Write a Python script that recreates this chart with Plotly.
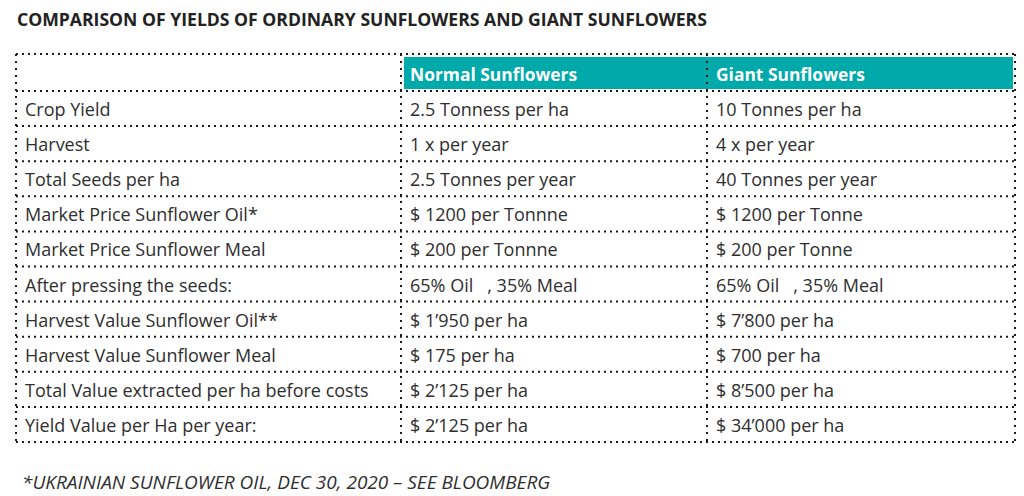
import plotly.graph_objects as go

title = "COMPARISON OF YIELDS OF ORDINARY SUNFLOWERS AND GIANT SUNFLOWERS"
footnote = "*UKRAINIAN SUNFLOWER OIL, DEC 30, 2020 – SEE BLOOMBERG"
headers = ["", "Normal Sunflowers", "Giant Sunflowers"]
row_labels = [
    "Crop Yield",
    "Harvest",
    "Total Seeds per ha",
    "Market Price Sunflower Oil*",
    "Market Price Sunflower Meal",
    "After pressing the seeds:",
    "Harvest Value Sunflower Oil**",
    "Harvest Value Sunflower Meal",
    "Total Value extracted per ha before costs",
    "Yield Value per Ha per year:",
]
normal = [
    "2.5 Tonness per ha",
    "1 x per year",
    "2.5 Tonnes per year",
    "$ 1200 per Tonnne",
    "$ 200 per Tonnne",
    "65% Oil   , 35% Meal",
    "$ 1’950 per ha",
    "$ 175 per ha",
    "$ 2’125 per ha",
    "$ 2’125 per ha",
]
giant = [
    "10 Tonnes per ha",
    "4 x per year",
    "40 Tonnes per year",
    "$ 1200 per Tonne",
    "$ 200 per Tonne",
    "65% Oil   , 35% Meal",
    "$ 7’800 per ha",
    "$ 700 per ha",
    "$ 8’500 per ha",
    "$ 34’000 per ha",
]

# layout geometry (page pixels; page body has an 8px margin)
W, H = 1024, 496
OFF = 8
col_edges = [16, 401, 707, 1015]
top = 54
header_bottom = 91
row_h = 35.1
text_pad = 9
text_dy = 3
TEAL = "#00A9AA"
TEXT = "#2e2e2e"
FONT = "Open Sans"

n = len(row_labels)
row_edges = [header_bottom + i * row_h for i in range(n + 1)]
row_centers = [header_bottom + (i + 0.5) * row_h + text_dy for i in range(n)]

fig = go.Figure()

shapes = []
shapes.append(dict(type="rect", xref="x", yref="y", x0=col_edges[1] + 3, x1=col_edges[3] - 2,
                   y0=top + 3, y1=header_bottom - 2, fillcolor=TEAL, line=dict(width=0), layer="below"))
for yv in [top] + row_edges:
    shapes.append(dict(type="line", xref="x", yref="y", x0=col_edges[0], x1=col_edges[-1], y0=yv, y1=yv,
                       line=dict(color="#1a1a1a", width=2, dash="2px,4px")))
for xv in col_edges:
    shapes.append(dict(type="line", xref="x", yref="y", x0=xv, x1=xv, y0=top, y1=row_edges[-1],
                       line=dict(color="#1a1a1a", width=2, dash="2px,5px")))

cols = [row_labels, normal, giant]
for ci, vals in enumerate(cols):
    fig.add_trace(go.Scatter(
        x=[col_edges[ci] + text_pad] * len(vals), y=row_centers, text=vals,
        mode="text", textposition="middle right",
        textfont=dict(family=FONT, size=18, color=TEXT), hoverinfo="skip", showlegend=False))

hx = [col_edges[1] + text_pad, col_edges[2] + text_pad]
fig.add_trace(go.Scatter(
    x=hx, y=[(top + header_bottom) / 2 + text_dy + 1] * 2, text=[f"<b>{h}</b>" for h in headers[1:]],
    mode="text", textposition="middle right",
    textfont=dict(family=FONT, size=17.4, color="white"), hoverinfo="skip", showlegend=False))

annotations = [
    dict(x=15, y=19, xref="x", yref="y", text=f"<b>{title}</b>", showarrow=False, xanchor="left",
         yanchor="middle", font=dict(family=FONT, size=17.6, color="#222222")),
    dict(x=20, y=482, xref="x", yref="y", text=f"<i>{footnote}</i>", showarrow=False, xanchor="left",
         yanchor="middle", font=dict(family=FONT, size=19, color=TEXT)),
]

fig.update_layout(
    width=W - OFF, height=H - OFF, margin=dict(l=0, r=0, t=0, b=0),
    paper_bgcolor="white", plot_bgcolor="white",
    xaxis=dict(range=[OFF, W], visible=False, fixedrange=True),
    yaxis=dict(range=[H, OFF], visible=False, fixedrange=True),
    shapes=shapes, annotations=annotations,
)

fig.write_html("out.html", config={"displayModeBar": False})
